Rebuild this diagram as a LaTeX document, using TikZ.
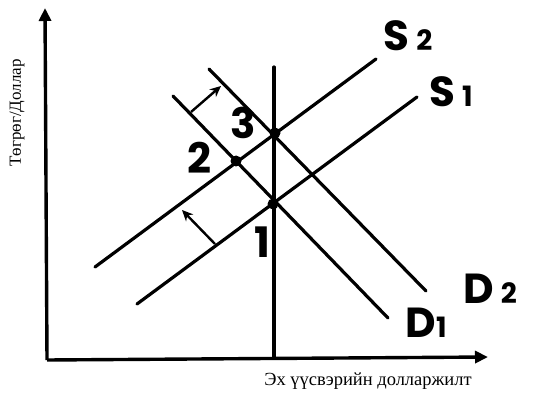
\documentclass[tikz,border=0pt]{standalone}
\usepackage{fontspec}
\setmainfont{Liberation Serif}
\newfontfamily\handfont{Poppins}
\usetikzlibrary{arrows.meta,positioning}

\begin{document}
\begin{tikzpicture}[
  x=1pt,y=-1pt,
  every node/.style={font=\fontsize{18.5}{20}\selectfont},
  axis/.style={line width=3.4pt,-{Triangle[length=13pt,width=12pt]}},
  curve/.style={line width=3.2pt,line cap=round},
  shiftarr/.style={line width=2.4pt,-{Stealth[length=11pt,width=10pt]}},
  eq/.style={circle,fill=black,inner sep=0pt,minimum size=11pt},
  hand/.style={font=\handfont\bfseries\fontsize{42}{42}\selectfont,inner sep=0pt},
]
\useasboundingbox (0,0) rectangle (533,393);

%% ── Axes ────────────────────────────────────────────────────────────────
\coordinate (origin) at (47,360);
\coordinate (ytop)   at (45,8);
\coordinate (xend)   at (488,357);
\draw[axis] (origin) -- (ytop);
\draw[axis] (origin) -- (xend);
\node[rotate=90,font=\fontsize{17}{18}\selectfont] (ylab) at (17,113) {Төгрөг/Доллар};
\node (xlab) at (368,381) {Эх үүсвэрийн долларжилт};

%% ── Vertical line ───────────────────────────────────────────────────────
\coordinate (vtop) at (274,67);
\coordinate (vbot) at (274,358);
\draw[curve] (vtop) -- (vbot);

%% ── Supply and demand lines ─────────────────────────────────────────────
\coordinate (s1a) at (137,304);  \coordinate (s1b) at (417,97);
\coordinate (s2a) at (95,267);   \coordinate (s2b) at (376,59);
\coordinate (d1a) at (173,96);   \coordinate (d1b) at (388,318);
\coordinate (d2a) at (209,69);   \coordinate (d2b) at (426,291);
\draw[curve] (s1a) -- (s1b);
\draw[curve] (s2a) -- (s2b);
\draw[curve] (d1a) -- (d1b);
\draw[curve] (d2a) -- (d2b);

%% ── Equilibrium points ──────────────────────────────────────────────────
\node[eq] (p1) at (273,204) {};
\node[eq] (p2) at (236,161) {};
\node[eq] (p3) at (275,133) {};

%% ── Shift arrows ────────────────────────────────────────────────────────
\coordinate (sa) at (215,244);  \coordinate (sb) at (182,210);
\coordinate (da) at (191,112);  \coordinate (db) at (221,86);
\draw[shiftarr] (sa) -- (sb);
\draw[shiftarr] (da) -- (db);

%% ── Labels ──────────────────────────────────────────────────────────────
\node[hand] (l1) at (262,242) {1};
\node[hand] (l2) at (199,158) {2};
\node[hand] (l3) at (243,123) {3};
\node[hand] (ls2) at (408,36) {S\,{\handfont\bfseries\fontsize{28}{28}\selectfont 2}};
\node[hand] (ls1) at (451,92) {S\,{\handfont\bfseries\fontsize{28}{28}\selectfont 1}};
\node[hand] (ld2) at (490,289) {D\,{\handfont\bfseries\fontsize{28}{28}\selectfont 2}};
\node[hand] (ld1) at (426,323) {D{\handfont\bfseries\fontsize{28}{28}\selectfont 1}};

\end{tikzpicture}
\end{document}
